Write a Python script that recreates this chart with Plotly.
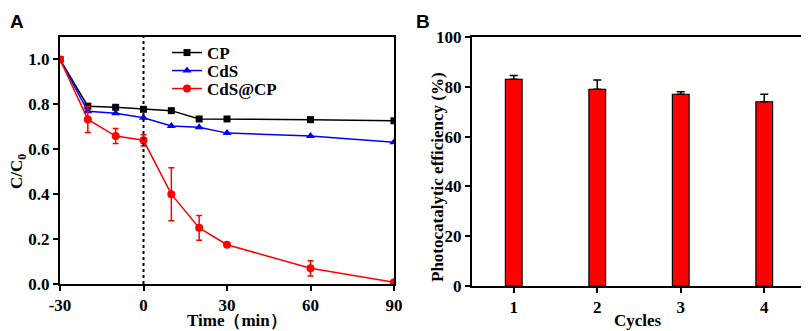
import plotly.graph_objects as go

time = [-30, -20, -10, 0, 10, 20, 30, 60, 90]
cp = [1.0, 0.792, 0.787, 0.778, 0.772, 0.735, 0.735, 0.732, 0.727]
cds = [1.0, 0.769, 0.760, 0.740, 0.704, 0.698, 0.672, 0.659, 0.631]
cdscp = [1.0, 0.733, 0.659, 0.640, 0.400, 0.250, 0.175, 0.070, 0.008]
cdscp_err = [0.0, 0.058, 0.033, 0.025, 0.118, 0.055, 0.006, 0.034, 0.005]

cycles = [1, 2, 3, 4]
efficiency = [83, 79, 77, 74]
eff_err = [1.5, 3.7, 1.0, 3.0]

time_ticks = [-30, 0, 30, 60, 90]
cc_ticks = [0, 0.2, 0.4, 0.6, 0.8, 1.0]
eff_ticks = [0, 20, 40, 60, 80, 100]

FONT = "Liberation Serif"
# page body has an 8px margin; the figure is sized to fit the 809x331 window
OFF = 8
FW, FH = 809 - OFF, 331 - OFF


def px(xpx):
    return (xpx - OFF) / FW


def py(ypx):
    return 1 - (ypx - OFF) / FH


def tf(size=17):
    return dict(family=FONT, size=size, color="black")


def b(s):
    return "<b>" + s + "</b>"


fig = go.Figure()
fig.add_trace(go.Scatter(x=time, y=cp, name=b("CP"), mode="lines+markers",
                         line=dict(color="black", width=1.5),
                         marker=dict(symbol="square", size=7, color="black"),
                         legend="legend", xaxis="x", yaxis="y"))
fig.add_trace(go.Scatter(x=time, y=cds, name=b("CdS"), mode="lines+markers",
                         line=dict(color="#0000ff", width=1.5),
                         marker=dict(symbol="triangle-up", size=8, color="#0000ff"),
                         legend="legend2", xaxis="x", yaxis="y"))
fig.add_trace(go.Scatter(x=time, y=cdscp, name=b("CdS@CP"), mode="lines+markers",
                         line=dict(color="#ff0000", width=1.5),
                         marker=dict(symbol="circle", size=8, color="#ff0000"),
                         error_y=dict(type="data", array=cdscp_err, color="#ff0000",
                                      thickness=1.5, width=3),
                         legend="legend3", xaxis="x", yaxis="y"))
fig.add_trace(go.Bar(x=cycles, y=efficiency, width=0.2, showlegend=False,
                     marker=dict(color="#ff0000", line=dict(color="black", width=1.2)),
                     error_y=dict(type="data", array=eff_err, arrayminus=[0] * 4,
                                  symmetric=False, color="black", thickness=1.5, width=4),
                     xaxis="x2", yaxis="y2"))


def leg(ypx):
    return dict(x=px(167), y=py(ypx), xanchor="left", yanchor="middle",
                bgcolor="rgba(0,0,0,0)", font=tf(17), itemwidth=30)


def title_ann(text, xpx, ypx, angle=0):
    return dict(text=b(text), x=px(xpx), y=py(ypx), xref="paper", yref="paper",
                xanchor="center", yanchor="middle", showarrow=False, textangle=angle,
                font=tf(17))


fig.update_layout(
    width=FW, height=FH,
    margin=dict(l=0, r=0, t=0, b=0),
    paper_bgcolor="white", plot_bgcolor="white",
    font=dict(family=FONT, size=17, color="black"),
    xaxis=dict(domain=[px(60), px(394)], range=[-30, 90], tickmode="array",
               tickvals=time_ticks, ticktext=[b(str(v)) for v in time_ticks], anchor="y"),
    yaxis=dict(domain=[py(284), py(37)], range=[0, 1.1], tickmode="array",
               tickvals=cc_ticks, ticktext=[b(f"{v:.1f}") for v in cc_ticks], anchor="x"),
    xaxis2=dict(domain=[px(472), px(806)], range=[0.5, 4.5], tickmode="array",
                tickvals=cycles, ticktext=[b(str(c)) for c in cycles], anchor="y2"),
    yaxis2=dict(domain=[py(286), py(37)], range=[0, 100], tickmode="array",
                tickvals=eff_ticks, ticktext=[b(str(v)) for v in eff_ticks], anchor="x2"),
    legend=leg(53),
    legend2=leg(71),
    legend3=leg(89),
    shapes=[dict(type="line", xref="x", yref="y domain", x0=0, x1=0, y0=0, y1=1,
                 line=dict(color="black", width=2, dash="dot"))],
    annotations=[
        dict(text="<b>A</b>", x=0, y=py(9), xref="paper", yref="paper",
             xanchor="left", yanchor="top", showarrow=False,
             font=dict(family="Liberation Sans", size=19, color="black")),
        dict(text="<b>B</b>", x=px(414), y=py(9), xref="paper", yref="paper",
             xanchor="left", yanchor="top", showarrow=False,
             font=dict(family="Liberation Sans", size=19, color="black")),
        title_ann("Time（min）", 237, 320),
        title_ann("C/C<sub>0</sub>", 18, 172, -90),
        title_ann("Cycles", 638, 320),
        title_ann("Photocatalytic efficiency (%)", 437, 177, -90),
    ],
)

fig.update_xaxes(showline=True, linecolor="black", linewidth=2, mirror=True,
                 ticks="outside", ticklen=5, tickwidth=2, tickcolor="black",
                 showgrid=False, zeroline=False, tickfont=tf(17), automargin=False)
fig.update_yaxes(showline=True, linecolor="black", linewidth=2, mirror=True,
                 ticks="outside", ticklen=5, tickwidth=2, tickcolor="black",
                 showgrid=False, zeroline=False, tickfont=tf(17), automargin=False)

fig.write_html("out.html")
